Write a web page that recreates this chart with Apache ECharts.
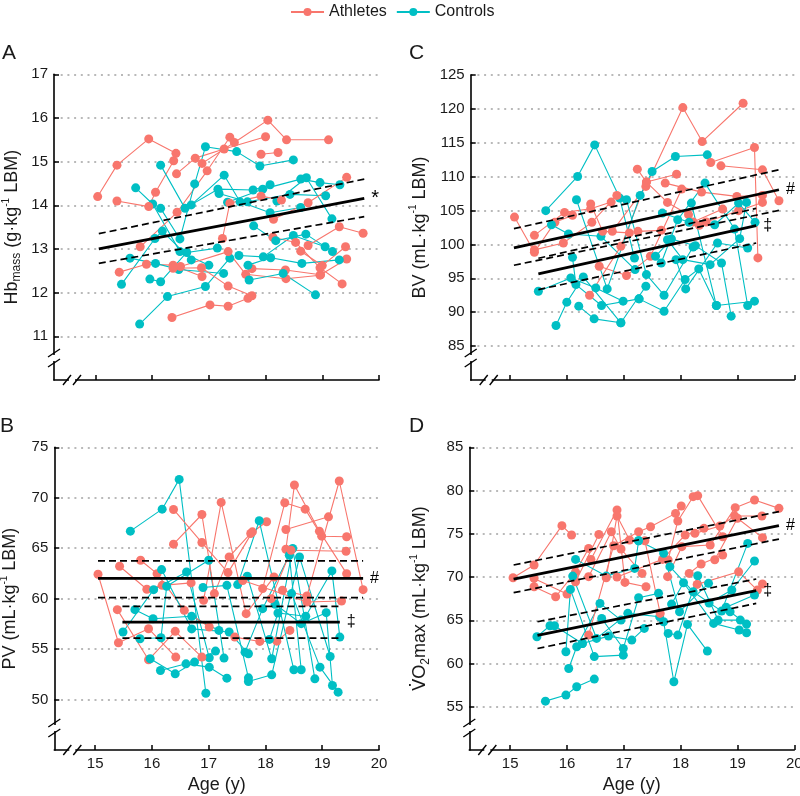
<!DOCTYPE html>
<html><head><meta charset="utf-8">
<script src="https://cdn.jsdelivr.net/npm/echarts@6/dist/echarts.min.js"></script>
<style>html,body{margin:0;padding:0;background:#fff}#c{width:800px;height:796px}</style>
</head><body><div id="c"></div>
<script>
// ---------- data ----------
const legendNames = ['Athletes', 'Controls'];
const xTicks = [15, 16, 17, 18, 19, 20];
const yTicksA = [11, 12, 13, 14, 15, 16, 17];
const yTicksB = [50, 55, 60, 65, 70, 75];
const yTicksC = [85, 90, 95, 100, 105, 110, 115, 120, 125];
const yTicksD = [55, 60, 65, 70, 75, 80, 85];

// Panel A: Hb mass
const athletesA = [
  [[15.04,14.20],[15.38,14.92],[15.94,15.52],[16.42,15.19]],
  [[15.38,14.10],[15.94,13.97],[16.06,14.30],[16.38,15.02]],
  [[15.42,12.47],[15.90,12.65],[16.37,12.63],[16.88,12.37]],
  [[15.79,13.05],[16.44,13.84],[16.97,14.79],[17.37,15.56]],
  [[16.43,14.72],[16.76,15.08],[17.27,15.29],[18.00,15.57]],
  [[16.88,14.96],[17.45,15.44],[18.04,15.95],[18.37,15.50],[19.11,15.50]],
  [[17.92,15.17],[18.22,15.21]],
  [[16.35,11.43],[17.02,11.72],[17.34,11.69],[17.69,11.87]],
  [[16.37,12.56],[16.87,12.57],[17.34,12.15],[17.76,11.93]],
  [[16.50,12.60],[17.34,12.94],[17.65,12.42],[18.36,12.32],[18.96,12.40]],
  [[17.76,12.55],[18.35,12.52],[18.97,12.41],[19.43,12.77]],
  [[17.24,13.24],[17.37,14.05],[17.92,14.21],[18.28,14.12]],
  [[18.13,13.27],[18.53,13.15],[18.96,12.57],[19.35,12.20]],
  [[18.14,13.68],[18.75,14.06],[19.43,14.64]],
  [[18.75,13.08],[19.30,13.51],[19.72,13.36]],
  [[18.62,12.95],[19.00,12.62],[19.41,13.05]]
];
const controlsA = [
  [[15.71,14.40],[16.01,14.03],[16.49,12.94],[17.00,12.63]],
  [[15.46,12.19],[16.05,13.24],[16.18,13.41],[16.69,12.75]],
  [[15.61,12.79],[16.06,12.67],[16.47,12.53],[17.26,12.44]],
  [[15.78,11.28],[16.27,11.91],[16.94,12.14],[17.37,12.79]],
  [[15.96,12.31],[16.15,12.25],[16.61,12.92],[17.15,13.02]],
  [[16.15,13.93],[16.49,13.23],[16.75,14.49],[16.94,15.34],[17.49,15.23],[17.90,14.90],[18.49,15.04]],
  [[16.15,14.92],[16.58,13.93],[17.16,14.37],[17.78,14.35],[18.08,14.47]],
  [[16.69,14.01],[17.27,14.69],[17.55,14.08],[18.08,13.83],[18.62,13.95]],
  [[17.18,14.27],[17.68,14.08],[18.43,14.25],[19.06,14.22]],
  [[17.33,14.07],[17.95,14.37],[18.62,14.60],[18.96,14.52],[19.31,14.47]],
  [[18.20,14.10],[18.72,14.63],[19.17,13.69]],
  [[17.53,12.85],[17.96,12.82],[18.49,13.31],[19.05,13.05]],
  [[17.79,13.53],[18.18,13.19],[18.71,13.34],[19.18,12.94]],
  [[17.69,12.63],[18.09,12.80],[18.64,12.67],[19.30,12.75]],
  [[17.71,12.29],[18.31,12.44],[18.88,11.95]]
];
// fits: [x0, x1, mid0, mid1, hi0, hi1, lo0, lo1]
const fitAthA = [15.06, 19.74, 13.00, 14.16, 13.35, 14.60, 12.67, 13.74];
const fitCtlA = null;

// Panel B: PV
const athletesB = [
  [[15.05,62.42],[15.41,55.63],[15.94,57.02],[16.42,54.21]],
  [[15.43,63.21],[15.91,60.93],[16.18,61.32],[16.69,61.56]],
  [[15.39,58.91],[15.94,53.94],[16.41,56.76],[16.88,54.21]],
  [[15.80,63.81],[16.09,62.48],[16.57,58.84],[17.01,57.19]],
  [[16.38,68.84],[16.88,65.56],[17.34,62.58],[17.77,66.62]],
  [[16.38,65.40],[16.88,68.34],[17.10,60.50],[17.36,64.14],[17.74,66.46],[18.02,67.62]],
  [[16.91,59.83],[17.22,69.54],[17.66,58.51],[18.15,62.15]],
  [[17.46,56.19],[17.90,55.76],[18.20,55.79],[18.43,56.85]],
  [[17.95,61.00],[18.34,69.50],[18.70,68.87],[18.99,66.19],[19.43,66.13]],
  [[18.36,64.90],[18.51,71.26],[18.95,66.69],[19.43,62.48]],
  [[18.36,66.85],[19.11,68.11]],
  [[18.30,60.83],[18.73,60.26],[19.30,71.66],[19.72,60.89]],
  [[17.60,61.80],[18.73,59.67],[19.34,59.77]],
  [[18.10,60.00],[18.45,64.80],[19.42,64.70]]
];
const controlsB = [
  [[15.62,66.69],[16.18,68.87],[16.48,71.82],[16.95,50.63]],
  [[15.49,56.69],[16.03,60.89],[16.61,62.65],[17.01,54.14]],
  [[15.70,58.91],[16.02,58.01],[16.70,58.25],[17.18,56.85]],
  [[15.79,56.03],[16.16,56.13],[16.26,61.23],[17.00,63.81],[17.27,54.11]],
  [[15.97,54.04],[16.41,52.55],[16.75,53.71],[17.12,54.80]],
  [[16.15,52.88],[16.60,53.54],[17.01,53.21],[17.32,52.12]],
  [[16.17,62.88],[16.70,57.00],[17.36,56.69],[17.70,54.54]],
  [[17.51,61.39],[17.89,67.72],[18.50,52.95]],
  [[17.68,62.22],[18.11,54.04],[18.48,64.97],[18.87,52.05]],
  [[17.64,54.70],[17.95,59.01],[18.42,64.30],[18.63,52.95]],
  [[17.70,51.79],[18.11,52.45],[18.60,64.14],[19.14,54.27]],
  [[18.07,55.96],[18.22,58.58],[18.71,58.25],[19.17,62.75],[19.31,56.19]],
  [[18.17,59.44],[18.63,57.52],[19.07,58.61],[19.18,51.39]],
  [[18.46,60.50],[18.96,53.21],[19.28,50.73]],
  [[16.90,61.10],[17.32,61.32],[17.70,52.15]]
];
const fitAthB = [15.05, 19.72, 62.00, 62.00, 63.74, 63.74, 60.10, 60.10];
const fitCtlB = [15.48, 19.31, 57.68, 57.68, 59.24, 59.24, 56.09, 56.09];

// Panel C: BV
const athletesC = [
  [[15.08,104.04],[15.43,98.84],[15.79,103.26],[16.10,104.29]],
  [[15.43,101.34],[15.96,104.73],[16.42,105.27],[16.78,106.25]],
  [[15.43,99.20],[15.94,100.21],[16.44,103.26],[16.88,107.23]],
  [[16.40,92.51],[16.95,99.72],[17.40,109.20],[17.93,110.37]],
  [[16.80,101.93],[17.39,108.56],[18.04,120.19],[18.38,115.18],[19.10,120.83]],
  [[16.57,96.78],[17.05,95.41],[17.47,98.25],[18.02,108.17]],
  [[17.24,111.11],[17.40,109.20],[17.77,106.20],[18.14,104.39]],
  [[17.25,101.93],[17.66,102.08],[18.22,103.31],[18.74,105.22]],
  [[18.53,112.09],[19.30,114.30],[19.36,98.01]],
  [[18.33,102.82],[18.45,103.31],[19.02,104.98],[19.44,106.20]],
  [[17.73,109.05],[18.37,107.72],[18.99,107.09],[19.44,107.23]],
  [[18.71,111.60],[19.44,111.01],[19.73,106.45]],
  [[16.42,105.96],[16.63,101.93],[17.10,101.70]]
];
const controlsC = [
  [[15.50,93.10],[16.07,95.06],[16.51,93.59],[16.99,91.63]],
  [[15.63,104.98],[16.19,110.03],[16.49,114.69],[16.93,106.84],[17.19,98.00]],
  [[15.73,102.91],[16.03,101.54],[16.60,101.20],[17.20,96.29]],
  [[15.81,88.04],[16.00,91.48],[16.29,95.21],[16.95,88.44]],
  [[16.10,98.10],[16.16,94.08],[16.61,90.99],[17.27,91.97]],
  [[16.17,106.59],[16.71,93.44],[17.29,107.23],[17.50,110.77],[17.91,112.98],[18.47,113.22]],
  [[16.21,90.89],[16.48,89.02],[16.95,88.44],[17.39,93.83]],
  [[17.05,106.60],[17.40,95.55],[17.71,92.51],[18.22,99.62]],
  [[17.27,91.97],[17.71,90.15],[18.08,94.82],[18.32,96.39],[18.63,90.99]],
  [[17.56,98.25],[17.84,100.80],[18.26,99.82],[18.72,97.27],[18.89,89.42]],
  [[17.66,97.27],[17.95,103.65],[18.43,109.05],[18.95,102.27],[19.18,90.99]],
  [[17.68,104.63],[18.15,103.26],[18.60,102.91],[19.02,106.10],[19.31,103.26]],
  [[17.77,100.70],[18.04,97.76],[18.52,97.02],[19.04,100.85],[19.16,106.20]],
  [[17.92,97.76],[18.09,93.44],[18.65,100.21],[19.18,99.48]],
  [[18.19,106.10],[18.63,90.99],[19.30,91.63]]
];
const fitAthC = [15.07, 19.73, 99.48, 108.07, 102.33, 111.01, 96.93, 105.02];
const fitCtlC = [15.50, 19.33, 95.65, 102.77, 97.96, 105.33, 93.34, 100.21];

// Panel D: VO2max
const athletesD = [
  [[15.05,69.92],[15.42,71.39],[15.91,75.94],[16.08,74.86]],
  [[15.42,69.84],[16.00,68.03],[16.15,69.46],[16.56,74.93]],
  [[15.42,68.88],[15.80,67.72],[16.15,70.60],[16.38,73.31]],
  [[16.38,70.04],[16.78,75.24],[16.95,73.24],[17.32,70.42]],
  [[16.38,63.29],[16.82,73.62],[17.26,75.24],[17.47,75.82],[17.91,77.36],[18.01,78.21]],
  [[16.42,72.04],[16.88,77.75],[17.02,69.38],[17.39,68.88]],
  [[16.69,69.92],[16.88,77.06],[17.10,74.28],[17.37,74.20],[17.64,65.79]],
  [[16.88,70.00],[17.68,72.04],[18.08,74.86],[18.41,75.63]],
  [[17.78,71.97],[17.95,76.48],[18.22,79.29],[18.30,79.41],[18.74,74.66]],
  [[17.77,70.04],[18.02,73.51],[18.52,73.70],[18.96,78.02],[19.30,78.91],[19.73,77.94]],
  [[18.15,70.42],[18.36,71.50],[18.74,72.54]],
  [[18.25,75.05],[18.69,75.90],[18.95,77.06],[19.43,77.06]],
  [[18.29,69.15],[19.02,70.60],[19.35,68.49],[19.44,69.19]],
  [[18.60,72.00],[19.00,76.80],[19.44,74.55]]
];
const controlsD = [
  [[15.62,55.65],[15.98,56.35],[16.17,57.31],[16.48,58.20]],
  [[15.47,63.10],[15.70,64.37],[15.78,64.37],[16.27,62.32]],
  [[15.98,61.36],[16.06,68.57],[16.48,60.80],[16.99,60.97]],
  [[16.03,59.43],[16.17,61.94],[16.58,66.95],[16.95,65.02]],
  [[16.15,72.04],[16.69,70.11],[17.19,71.00],[17.26,74.20]],
  [[16.10,70.11],[16.52,62.90],[17.07,65.80],[17.63,65.40]],
  [[16.27,62.32],[16.73,63.17],[17.14,62.71],[17.36,64.06]],
  [[16.61,65.20],[16.99,61.74],[17.26,67.61],[17.61,68.11]],
  [[17.26,74.20],[17.70,72.74],[17.98,65.99],[18.49,69.27]],
  [[17.70,64.83],[17.88,57.89],[18.12,64.52],[18.47,61.44]],
  [[17.78,63.48],[17.95,63.29],[18.30,70.15],[18.66,65.02],[19.05,65.02]],
  [[17.84,66.87],[18.05,69.34],[18.58,64.64],[19.03,63.87],[19.16,63.56]],
  [[17.81,71.20],[18.22,68.30],[18.72,66.06],[19.18,73.89]],
  [[18.87,65.99],[19.16,64.56]],
  [[18.50,67.00],[18.90,68.50],[19.30,71.85]],
  [[18.80,66.50],[19.30,67.92]]
];
const fitAthD = [15.06, 19.73, 69.77, 75.94, 71.39, 77.56, 68.19, 74.39];
const fitCtlD = [15.48, 19.33, 63.25, 68.42, 64.83, 69.77, 61.74, 66.95];

// ---------- panel definitions ----------
const RED = '#F8766D', TEAL = '#00BFC4', TXT = '#1a1a1a';
const FONT = '"Liberation Sans", Arial, Helvetica, sans-serif';
const panels = [
  {id:'A', ath:athletesA, ctl:controlsA, fa:fitAthA, fc:fitCtlA, markA:'*', markC:'',
   yTicks:yTicksA, ymin:10, ymax:17, yint:1, xmin:14.27,
   yName:'Hb{sub|mass} (g·kg{sup|-1} LBM)',
   box:{left:54, top:74.3, width:325, height:305.7}, nameGap:31, letterPos:[2,43], xLabels:false},
  {id:'C', ath:athletesC, ctl:controlsC, fa:fitAthC, fc:fitCtlC, markA:'#', markC:'‡',
   yTicks:yTicksC, ymin:80, ymax:125, yint:5, xmin:14.31,
   yName:'BV (mL·kg{sup|-1} LBM)',
   box:{left:470.7, top:75, width:323.6, height:305}, nameGap:40, letterPos:[409,43], xLabels:false},
  {id:'B', ath:athletesB, ctl:controlsB, fa:fitAthB, fc:fitCtlB, markA:'#', markC:'‡',
   yTicks:yTicksB, ymin:45, ymax:75, yint:5, xmin:14.28,
   yName:'PV (mL·kg{sup|-1} LBM)',
   box:{left:54.3, top:447.3, width:324.7, height:302.7}, nameGap:33, letterPos:[0,416], xLabels:true},
  {id:'D', ath:athletesD, ctl:controlsD, fa:fitAthD, fc:fitCtlD, markA:'#', markC:'‡',
   yTicks:yTicksD, ymin:50, ymax:85, yint:5, xmin:14.28,
   yName:'{vd|V\u0307}O{sub|2}max (mL·kg{sup|-1} LBM)',
   box:{left:469.3, top:447.3, width:325, height:302.7}, nameGap:38, letterPos:[409,416], xLabels:true}
];

const grids = [], xAxes = [], yAxes = [], series = [], graphics = [];
const axisLine = {show:true, onZero:false, lineStyle:{color:'#000', width:1.6}};
const tickStyle = {color:'#000', width:1.5};

panels.forEach((p, i) => {
  const b = p.box;
  grids.push({left:b.left, top:b.top, width:b.width, height:b.height, containLabel:false, outerBoundsMode:'none'});
  xAxes.push({
    type:'value', gridIndex:i, min:p.xmin, max:20,
    axisLine, axisTick:{show:true, inside:true, length:5, customValues:xTicks, lineStyle:tickStyle},
    axisLabel:{show:p.xLabels, customValues:xTicks, fontSize:15, color:TXT, margin:6, fontFamily:FONT},
    splitLine:{show:false},
    name:p.xLabels ? 'Age (y)' : '', nameLocation:'middle', nameGap:26,
    nameTextStyle:{fontSize:18, color:TXT, fontFamily:FONT}
  });
  yAxes.push({
    type:'value', gridIndex:i, min:p.ymin, max:p.ymax, interval:p.yint,
    axisLine, axisTick:{show:true, inside:true, length:5, customValues:p.yTicks, lineStyle:tickStyle},
    axisLabel:{customValues:p.yTicks, fontSize:15, color:TXT, margin:6, fontFamily:FONT},
    splitLine:{show:true, lineStyle:{type:[2,4.7], color:'#a3a3a3', width:1.6}},
    name:p.yName, nameLocation:'middle', nameGap:p.nameGap,
    nameTextStyle:{fontSize:18, color:TXT, fontFamily:FONT, lineHeight:22,
      rich:{sub:{fontSize:12, color:TXT, fontFamily:FONT, verticalAlign:'bottom', lineHeight:12},
            sup:{fontSize:10, color:TXT, fontFamily:FONT, verticalAlign:'top', lineHeight:10},
            vd:{fontSize:18, color:TXT, fontFamily:'"DejaVu Sans", sans-serif', lineHeight:22}}}
  });
  const n = Math.max(p.ath.length, p.ctl.length);
  const traj = (d, name, col) => ({
    type:'line', name, xAxisIndex:i, yAxisIndex:i, data:d,
    symbol:'circle', symbolSize:9, showSymbol:true,
    itemStyle:{color:col}, lineStyle:{color:col, width:1.1},
    emphasis:{disabled:true}, silent:true, z:2
  });
  for (let k = 0; k < n; k++) {
    if (p.ath[k]) series.push(traj(p.ath[k], legendNames[0], RED));
    if (p.ctl[k]) series.push(traj(p.ctl[k], legendNames[1], TEAL));
  }
  const fit = (f, mark) => {
    if (!f) return;
    const mk = (y0, y1, solid, label) => ({
      type:'line', name:'fit', xAxisIndex:i, yAxisIndex:i,
      data:[[f[0], y0], [f[1], y1]], symbol:'none', silent:true, z:5,
      lineStyle:{color:'#000', width: solid ? 2.8 : 1.7, type: solid ? 'solid' : [7,4]},
      endLabel: label ? {show:true, formatter:label, color:'#000', fontSize: label === '*' ? 20 : 16,
                         fontFamily:FONT, distance:7} : {show:false}
    });
    series.push(mk(f[4], f[5], false, ''));
    series.push(mk(f[6], f[7], false, ''));
    series.push(mk(f[2], f[3], true, mark));
  };
  fit(p.fa, p.markA);
  fit(p.fc, p.markC);

  // panel letter
  graphics.push({type:'text', left:p.letterPos[0], top:p.letterPos[1],
    style:{text:p.id, fontSize:21, fill:TXT, fontFamily:FONT}});
  // axis break marks
  const gx = b.left, gy = b.top + b.height;
  const yb = gy - 22, xb = gx + 18;
  const ln = (x1,y1,x2,y2) => ({type:'line', shape:{x1,y1,x2,y2}, style:{stroke:'#000', lineWidth:1.4}, z:200});
  graphics.push({type:'rect', shape:{x:gx-2.5, y:yb-3, width:5, height:6}, style:{fill:'#fff'}, z:199});
  graphics.push(ln(gx-6, yb-1, gx+6, yb-9));
  graphics.push(ln(gx-6, yb+9, gx+6, yb+1));
  graphics.push({type:'rect', shape:{x:xb-3, y:gy-2.5, width:6, height:5}, style:{fill:'#fff'}, z:199});
  graphics.push(ln(xb-9, gy+5, xb-1, gy-5));
  graphics.push(ln(xb+1, gy+5, xb+9, gy-5));
});

const chart = echarts.init(document.getElementById('c'), null, {renderer:'canvas'});
chart.setOption({
  animation:false,
  backgroundColor:'#fff',
  textStyle:{fontFamily:FONT},
  legend:{data:legendNames, left:285, top:-1, itemWidth:33, itemHeight:10, itemGap:9,
          textStyle:{fontSize:16, color:TXT, fontFamily:FONT}, selectedMode:false},
  grid:grids, xAxis:xAxes, yAxis:yAxes, series, graphic:graphics
});
</script></body></html>
